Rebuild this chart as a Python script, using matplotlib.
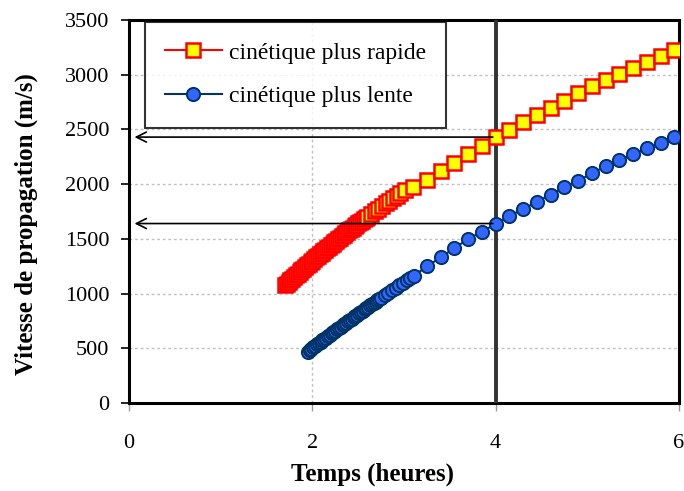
import numpy as np
import matplotlib.pyplot as plt

# temps (heures) / vitesse (m/s) - cinetique plus rapide
t_rapide = [1.70, 1.72, 1.74, 1.76, 1.78, 1.80, 1.82, 1.84, 1.86, 1.88, 1.90,
            1.92, 1.94, 1.96, 1.98, 2.00, 2.02, 2.04, 2.06, 2.08, 2.10, 2.12,
            2.14, 2.16, 2.18, 2.20, 2.22, 2.24, 2.26, 2.28, 2.30, 2.32, 2.34,
            2.36, 2.38, 2.40, 2.42, 2.44, 2.46, 2.48, 2.50, 2.52, 2.54, 2.56,
            2.58, 2.60, 2.64, 2.68, 2.72, 2.76, 2.80, 2.84, 2.88, 2.92, 2.96,
            3.01, 3.10, 3.25, 3.40, 3.55, 3.70, 3.85, 4.00, 4.15, 4.30, 4.45,
            4.60, 4.75, 4.90, 5.05, 5.20, 5.35, 5.50, 5.65, 5.80, 5.95]
v_rapide = [1075, 1091, 1106, 1122, 1137, 1152, 1167, 1182, 1198, 1212, 1227,
            1242, 1257, 1272, 1286, 1301, 1315, 1330, 1344, 1358, 1373, 1387,
            1401, 1415, 1429, 1443, 1456, 1470, 1484, 1497, 1511, 1524, 1537,
            1551, 1564, 1577, 1590, 1603, 1616, 1629, 1641, 1654, 1667, 1679,
            1692, 1704, 1729, 1753, 1777, 1801, 1824, 1847, 1870, 1893, 1915,
            1942, 1970, 2040, 2120, 2195, 2275, 2350, 2428, 2495, 2568, 2630,
            2695, 2762, 2830, 2895, 2955, 3010, 3065, 3118, 3170, 3222]

# cinetique plus lente
t_lente = [1.95, 1.97, 1.99, 2.01, 2.03, 2.05, 2.07, 2.09, 2.11, 2.13, 2.15,
           2.17, 2.19, 2.21, 2.23, 2.25, 2.27, 2.29, 2.31, 2.33, 2.35, 2.37,
           2.39, 2.41, 2.43, 2.45, 2.47, 2.49, 2.51, 2.53, 2.55, 2.57, 2.59,
           2.61, 2.63, 2.65, 2.67, 2.69, 2.71, 2.73, 2.75, 2.79, 2.83, 2.87,
           2.91, 2.95, 2.99, 3.03, 3.07, 3.11, 3.25, 3.40, 3.55, 3.70, 3.85,
           4.00, 4.15, 4.30, 4.45, 4.60, 4.75, 4.90, 5.05, 5.20, 5.35, 5.50,
           5.65, 5.80, 5.95]
v_lente = [470, 483, 496, 509, 522, 535, 547, 560, 573, 586, 598,
           611, 623, 636, 648, 661, 673, 686, 698, 711, 723, 735,
           747, 759, 772, 784, 796, 808, 820, 832, 844, 856, 868,
           879, 891, 903, 915, 926, 938, 950, 961, 984, 1007, 1030,
           1053, 1075, 1097, 1120, 1142, 1163, 1250, 1330, 1415, 1500, 1566,
           1636, 1712, 1770, 1840, 1905, 1975, 2030, 2100, 2162, 2218, 2272,
           2330, 2375, 2428]

t_lecture = 4.0
v_lecture = [2430, 1640]

fig = plt.figure(figsize=(6.84, 4.91), dpi=100)
ax = fig.add_axes([129/684, 1 - 403/491, 550/684, 383/491])
serif = ['Liberation Serif', 'DejaVu Serif']

ax.plot(t_rapide, v_rapide, color='red', lw=1.5, marker='s', markersize=10,
        markerfacecolor='#ffff00', markeredgecolor='red', markeredgewidth=1.8,
        label='cinétique plus rapide', zorder=4)
ax.plot(t_lente, v_lente, color='#003366', lw=1.5, marker='o', markersize=9.5,
        markerfacecolor='#3366ff', markeredgecolor='#003366', markeredgewidth=1.4,
        label='cinétique plus lente', zorder=4)

# vertical reading line and arrows
ax.axvline(t_lecture, color='#333333', lw=2.8, zorder=3)
for v in v_lecture:
    ax.annotate('', xy=(0.03, v), xytext=(t_lecture, v),
                arrowprops=dict(arrowstyle='->', color='black', lw=1.2,
                                mutation_scale=18), zorder=5)

ax.set_xlim(0, 6)
ax.set_ylim(0, 3500)
ax.set_xticks([0, 2, 4, 6])
ax.set_yticks(np.arange(0, 3501, 500))
ax.grid(True, color='#c0c0c0', linestyle=(0, (2, 2)), lw=1)
ax.set_axisbelow(True)

for s in ax.spines.values():
    s.set_linewidth(2.2)
    s.set_color('black')

ax.tick_params(axis='y', direction='out', length=6, width=1.2, pad=8,
               labelsize=16)
ax.tick_params(axis='x', direction='out', length=6, width=1, color='#999999',
               pad=16, labelsize=16)
for lab in ax.get_xticklabels() + ax.get_yticklabels():
    lab.set_family(serif)

ax.set_xlabel('Temps (heures)', family=serif, fontsize=18, fontweight='bold')
ax.set_ylabel('Vitesse de propagation (m/s)', family=serif, fontsize=18,
              fontweight='bold')
ax.xaxis.set_label_coords(0.442, -0.155)
ax.yaxis.set_label_coords(-0.165, 0.467)

leg = ax.legend(loc='upper left', bbox_to_anchor=(0.029, 0.995),
                borderaxespad=0, prop={'family': serif, 'size': 17},
                frameon=True, fancybox=False, handlelength=2.4, borderpad=0.85,
                labelspacing=0.95, handletextpad=0.3)
leg.get_frame().set_edgecolor('black')
leg.get_frame().set_linewidth(1.5)
leg.set_zorder(6)

fig.savefig('out.png', dpi=100)
